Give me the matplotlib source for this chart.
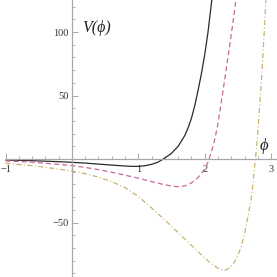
import matplotlib
matplotlib.use("Agg")
import matplotlib.pyplot as plt
from matplotlib.ticker import MultipleLocator, FixedLocator

# data
x_black = [-1.0, -0.6, -0.2, 0.0, 0.2, 0.4, 0.6, 0.8, 0.9, 1.0, 1.1, 1.2, 1.3, 1.4,
           1.5, 1.6, 1.7, 1.75, 1.8, 1.85, 1.9, 1.95, 2.0, 2.05, 2.1, 2.13]
y_black = [-0.8, -1.3, -2.1, -2.6, -3.2, -4.0, -4.8, -5.5, -5.8, -5.8, -5.3, -4.2, -2.4, 0.8,
           4.5, 10.0, 18.5, 24.5, 32.0, 42.0, 54.0, 67.0, 82.0, 100.0, 122.0, 138.0]

x_pink = [-1.0, -0.6, -0.2, 0.0, 0.2, 0.4, 0.6, 0.8, 1.0, 1.2, 1.4, 1.5, 1.6, 1.7,
          1.8, 1.9, 1.95, 2.0, 2.05, 2.1, 2.15, 2.2, 2.25, 2.3, 2.35, 2.4, 2.45, 2.5]
y_pink = [-1.5, -2.5, -4.2, -5.2, -6.6, -8.4, -10.4, -12.7, -15.1, -17.8, -20.3, -21.3, -21.8, -21.2,
          -18.8, -14.5, -11.5, -7.8, -2.5, 5.5, 15.0, 28.0, 45.0, 62.0, 80.0, 98.0, 117.0, 138.0]

x_yellow = [-1.0, -0.6, -0.2, 0.0, 0.2, 0.4, 0.6, 0.8, 1.0, 1.2, 1.4, 1.6, 1.8, 1.9, 2.0,
            2.1, 2.2, 2.25, 2.3, 2.35, 2.4, 2.45, 2.5, 2.55, 2.6, 2.65, 2.7, 2.725, 2.75,
            2.775, 2.8, 2.85, 2.9, 2.95]
y_yellow = [-3.4, -5.2, -7.9, -9.4, -11.5, -14.3, -17.8, -22.5, -29.5, -38.5, -48.0, -58.0,
            -68.0, -73.0, -78.0, -82.5, -86.0, -87.2, -87.5, -86.5, -84.2, -80.8, -76.0, -69.0,
            -59.0, -46.0, -31.0, -20.0, -7.5, 6.0, 21.0, 58.0, 103.0, 155.0]

x_major = [-1, 1, 2, 3]
y_major = [-50, 50, 100]

W = 277
fig = plt.figure(figsize=(2.77, 2.77), dpi=100)
ax = fig.add_axes([0, 0, 1, 1])
ax.set_xlim(-1.083, 3.089)
ax.set_ylim(-92.9, 125.2)

ax.plot(x_black, y_black, color="#2a2a2a", lw=0.9, solid_capstyle="butt")
ax.plot(x_pink, y_pink, color="#c8679e", lw=0.9, dashes=(4, 2.5))
ax.plot(x_yellow, y_yellow, color="#c9b26c", lw=0.9, dashes=(4, 2, 0.8, 2))

axc = "#a8a8a8"
for s in ["top", "right"]:
    ax.spines[s].set_visible(False)
ax.spines["left"].set_position(("data", 0))
ax.spines["bottom"].set_position(("data", 0))
ax.spines["bottom"].set_bounds(-1, 3.089)
for s in ["left", "bottom"]:
    ax.spines[s].set_color(axc)
    ax.spines[s].set_linewidth(0.9)

ax.xaxis.set_major_locator(FixedLocator(x_major))
ax.xaxis.set_minor_locator(MultipleLocator(0.2))
ax.yaxis.set_major_locator(FixedLocator(y_major))
ax.yaxis.set_minor_locator(MultipleLocator(10))
ax.set_xticklabels(["\u22121" if v < 0 else str(v) for v in x_major])
ax.set_yticklabels(["\u2212" + str(-v) if v < 0 else str(v) for v in y_major])

ax.tick_params(which="major", direction="in", length=4.5, width=0.7, color=axc,
               labelsize=7.5, labelcolor="#333333")
ax.tick_params(which="minor", direction="in", length=2.5, width=0.6, color=axc)
ax.tick_params(axis="x", which="major", pad=4.5)
ax.tick_params(axis="y", which="major", pad=2.5)
for lab in ax.get_xticklabels() + ax.get_yticklabels():
    lab.set_family(["Liberation Serif", "DejaVu Serif"])

fig.text(82 / W, 1 - 28 / W, "V(\u03d5)", family=["Liberation Serif", "DejaVu Serif"],
         style="italic", fontsize=11.5, ha="left", va="center", color="#222222")
fig.text(263.5 / W, 1 - 146 / W, "\u03d5", family=["Liberation Serif", "DejaVu Serif"],
         style="italic", fontsize=12, ha="center", va="center", color="#222222")

fig.savefig("out.png", dpi=100)
